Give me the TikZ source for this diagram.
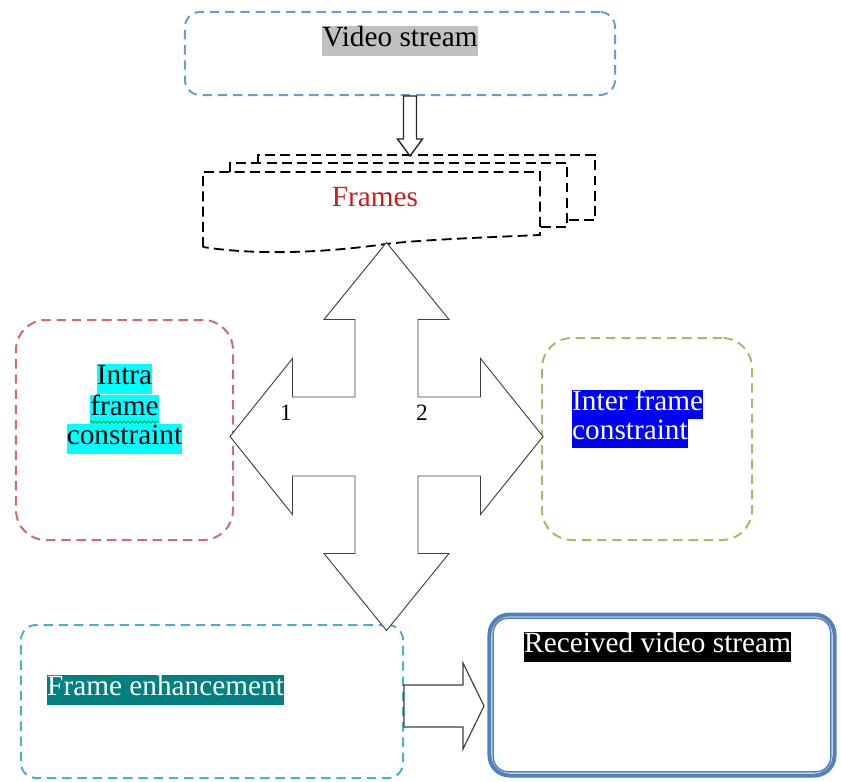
\documentclass[tikz,border=0pt]{standalone}
\usepackage{fontspec}
\setmainfont{Liberation Serif}
\usetikzlibrary{calc,decorations.pathmorphing}
\definecolor{vidblue}{RGB}{108,155,212}
\definecolor{intrared}{RGB}{204,110,108}
\definecolor{intergreen}{RGB}{160,190,100}
\definecolor{enhcyan}{RGB}{80,175,200}
\definecolor{recvblue}{RGB}{79,129,189}
\definecolor{hlgray}{RGB}{192,192,192}
\definecolor{hlcyan}{RGB}{0,255,255}
\definecolor{hlblue}{RGB}{0,0,255}
\definecolor{hlteal}{RGB}{0,128,128}
\definecolor{frmred}{RGB}{200,30,30}
\newcommand{\hl}[3]{{\setlength{\fboxsep}{0pt}\colorbox{#1}{\color{#2}\strut #3}}}
\begin{document}
\begin{tikzpicture}[x=0.03cm,y=-0.03cm,
    txt/.style={inner sep=0pt, font=\fontsize{25}{25}\selectfont},
    dbox/.style={draw=#1, line width=0.06cm, dash pattern=on 8pt off 5pt, inner sep=0pt},
    hollow/.style={draw=black!75, line width=0.8pt, fill=white, line join=miter},
    frm/.style={draw=black, line width=0.055cm, dash pattern=on 8.5pt off 4.5pt}]
    \useasboundingbox (0,0) rectangle (841,781);

    % boxes
    \node(video) [dbox=vidblue, rounded corners=0.45cm, minimum width=12.9cm, minimum height=2.49cm] at (400,53.5) {};
    \node(intra) [dbox=intrared, rounded corners=0.9cm, minimum width=6.51cm, minimum height=6.6cm] at (124.5,430) {};
    \node(inter) [dbox=intergreen, rounded corners=0.9cm, minimum width=6.3cm, minimum height=6.06cm] at (647,439) {};
    \node(enh) [dbox=enhcyan, rounded corners=0.45cm, minimum width=11.46cm, minimum height=4.59cm] at (212,701.5) {};
    \node(recv) [draw=recvblue, line width=0.12cm, rounded corners=0.6cm, minimum width=10.35cm, minimum height=4.83cm] at (662,695) {};
    \draw[recvblue, line width=0.045cm, rounded corners=0.45cm]
        ($(recv.north west)+(0.17cm,-0.17cm)$) rectangle ($(recv.south east)+(-0.17cm,0.17cm)$);

    % frames stack
    \draw[frm] (258,163) -- (258,155) -- (595,155) -- (595,220) -- (567,220);
    \draw[frm] (230,172) -- (230,163) -- (567,163) -- (567,227) -- (540,227);
    \draw[frm] (203,247) -- (203,172) -- (540,172) -- (540,235)
        .. controls (470,238) and (420,240) .. (386,244)
        .. controls (330,252) and (260,256) .. (203,247);

    % labels
    \node(vlabel) [txt] at (400,41) {\hl{hlgray}{black}{Video stream}};
    \node(frames) [txt, text=frmred] at (375,197) {Frames};
    \node(intralabel) [txt, align=center] at (124.5,409)
        {\hl{hlcyan}{black}{Intra}\\\hl{hlcyan}{black}{frame}\\\hl{hlcyan}{black}{constraint}};
    \draw[green!60!black, line width=0.6pt, decorate, decoration={snake, amplitude=0.9pt, segment length=3.5pt}] (90,422) -- (160,422);
    \node(interlabel) [txt, align=left, anchor=west] at (572,419)
        {\hl{hlblue}{white}{Inter frame}\\\hl{hlblue}{white}{constraint}};
    \node(enhlabel) [txt, anchor=west] at (47,690) {\hl{hlteal}{white}{Frame enhancement}};
    \node(recvlabel) [txt, anchor=west] at (524,647) {\hl{black}{white}{Received video stream}};

    % small arrow down
    \draw[hollow, draw=black!85, line width=1.2pt] ([xshift=0.3cm]video.south) ++(-6.5,0) -- ++(0,43) -- ++(-6,0) -- ++(12.5,17)
        -- ++(12.5,-17) -- ++(-6,0) -- ++(0,-43) -- cycle;

    % four way arrow
    \coordinate(hub) at (386.5,436.5);
    \draw[hollow, shift={(hub)}] (0,-194) -- (62.5,-117) -- (31.5,-117) -- (31.5,-39.5)
        -- (94,-39.5) -- (94,-78) -- (156.5,0) -- (94,78) -- (94,39.5) -- (31.5,39.5)
        -- (31.5,117) -- (62.5,117) -- (0,194) -- (-62.5,117) -- (-31.5,117) -- (-31.5,39.5)
        -- (-94,39.5) -- (-94,78) -- (-156.5,0) -- (-94,-78) -- (-94,-39.5) -- (-31.5,-39.5)
        -- (-31.5,-117) -- (-62.5,-117) -- cycle;
    \node(one) [inner sep=0pt, font=\fontsize{20}{20}\selectfont] at (286,413) {1};
    \node(two) [inner sep=0pt, font=\fontsize{20}{20}\selectfont] at (422,413) {2};

    % arrow to received stream
    \draw[hollow, line width=1pt] ([yshift=-0.135cm]enh.east) ++(0,-21) -- ++(59,0) -- ++(0,-22) -- ++(21,43)
        -- ++(-21,43) -- ++(0,-22) -- ++(-59,0) -- cycle;
\end{tikzpicture}
\end{document}
